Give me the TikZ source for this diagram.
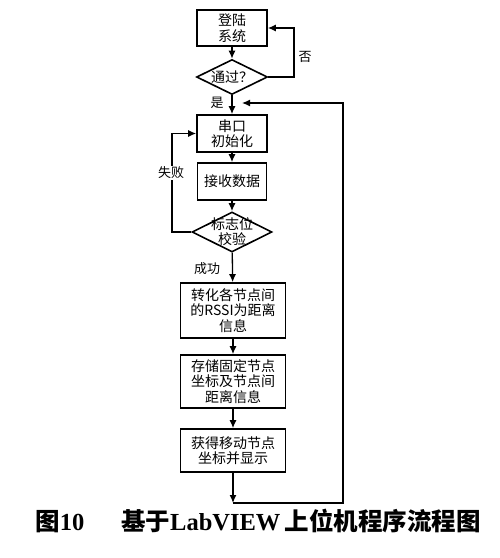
\documentclass[tikz,border=0pt]{standalone}
\usepackage{fontspec}
\setmainfont{Noto Sans CJK SC}
\newfontfamily\capfont{Liberation Serif}
\usetikzlibrary{shapes.geometric,arrows.meta}

\tikzset{
	procbox/.style={draw, line width=1.6pt, rectangle, align=center, inner sep=0pt,
		font=\fontsize{14}{15.5}\selectfont},
	decision/.style={draw, line width=1.6pt, diamond, aspect=2, inner sep=0pt},
	flow/.style={line width=1.3pt, -{Latex[length=8pt,width=7pt]}},
	lbl/.style={inner sep=1pt, font=\fontsize{13}{15}\selectfont}
}

\begin{document}
\begin{tikzpicture}[x=1pt, y=-1pt]
		\useasboundingbox (0,0) rectangle (500,558);
		% flow chart boxes
		\node[procbox, minimum width=70pt, minimum height=36pt] (login) at (232,28) {登陆\\系统};
		\node[decision, minimum width=71pt, minimum height=35pt] (pass) at (232,77) {};
		\node[lbl, font=\fontsize{14}{15.5}\selectfont] (passtxt) at (pass) {通过？};
		\node[procbox, minimum width=70pt, minimum height=37pt] (serial) at (232,133.5) {串口\\初始化};
		\node[procbox, minimum width=69pt, minimum height=37pt] (recv) at (232,181.5) {接收数据};
		\node[decision, minimum width=80pt, minimum height=40pt] (check) at (232,232) {};
		\node[lbl, align=center, font=\fontsize{14}{15}\selectfont] (checktxt) at (check) {标志位\\校验};
		\node[procbox, minimum width=105pt, minimum height=55pt] (conv) at (233,310.5) {转化各节点间\\的RSSI为距离\\信息};
		\node[procbox, minimum width=105pt, minimum height=53pt] (store) at (233,381.5) {存储固定节点\\坐标及节点间\\距离信息};
		\node[procbox, minimum width=105pt, minimum height=43pt] (show) at (233,450.5) {获得移动节点\\坐标并显示};
		
		% main connectors
		\draw[flow] (login) -- (pass);
		\draw[flow] (pass) -- (serial);
		\draw[flow] (serial) -- (recv);
		\draw[flow] (recv) -- (check);
		\draw[flow] (check) -- (conv);
		\draw[flow] (conv) -- (store);
		\draw[flow] (store) -- (show);
		\coordinate (loopend) at (233,503);
		\coordinate (rejoin) at (232,103);
		\draw[flow] (show) -- (loopend);
		
		% loops
		\draw[flow] (loopend) -- (343,503) -- (343,103) -- ([xshift=10pt]rejoin);
		\draw[flow] (pass.east) -| (294,28) -- (login.east);
		\draw[flow] (check.west) -| (172,133.5) -- (serial.west);
		
		% labels
		\node[lbl] (no) at (305,57) {否};
		\node[lbl] (yes) at (217,103) {是};
		\node[lbl, fill=white] (fail) at (171,173) {失败};
		\node[lbl] (ok) at (207,269) {成功};
		
		\node (caption) at (258,521) {\fontsize{24.5}{24.5}\selectfont\bfseries 图{\capfont 10}\hspace{1.5em}基于{\capfont LabVIEW}\,上位机程序流程图};
\end{tikzpicture}
\end{document}
